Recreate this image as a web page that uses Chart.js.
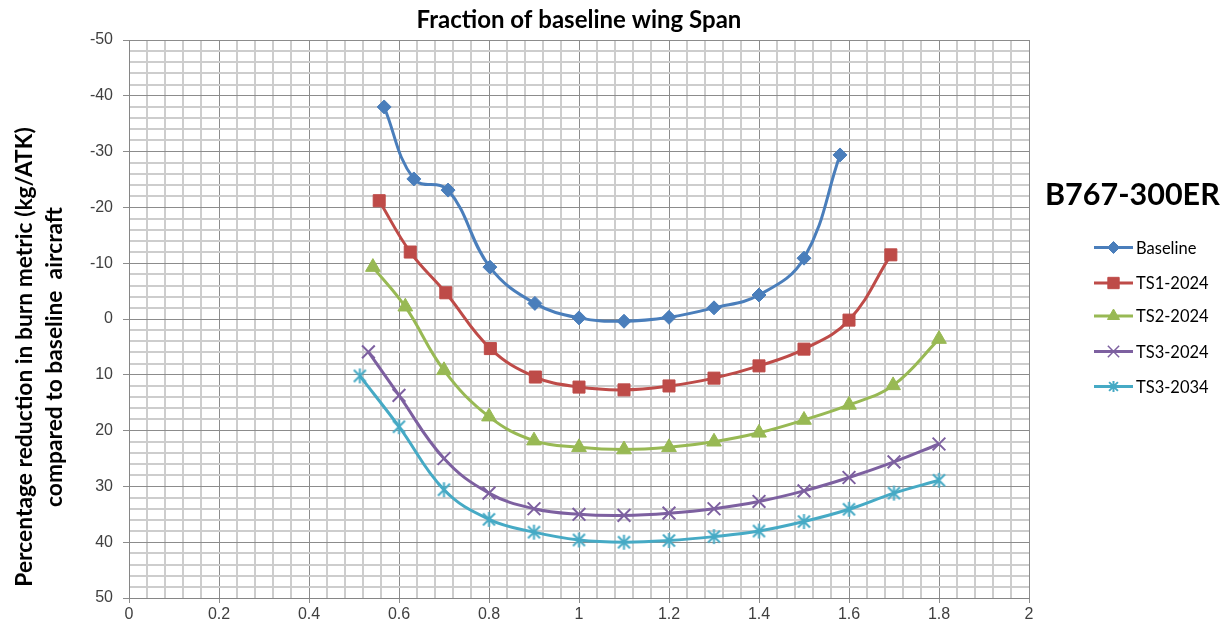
<!DOCTYPE html>
<html>
<head>
<meta charset="utf-8">
<script src="https://cdn.jsdelivr.net/npm/chart.js@4/dist/chart.umd.min.js"></script>
<style>
html,body{margin:0;padding:0;background:#fff;}
#wrap{width:1228px;height:632px;position:relative;}
</style>
</head>
<body>
<div id="wrap"><canvas id="c" width="1228" height="632"></canvas></div>
<script>
const chartTitle = "Fraction of baseline wing Span";
const yTitleLines = ["Percentage reduction in burn metric (kg/ATK)", "compared to baseline  aircraft"];
const legendTitle = "B767-300ER";
const seriesNames = ["Baseline", "TS1-2024", "TS2-2024", "TS3-2024", "TS3-2034"];

const xBaseline = [0.567, 0.633, 0.709, 0.802, 0.902, 1.0, 1.1, 1.2, 1.3, 1.4, 1.5, 1.58];
const yBaseline = [-38.0, -25.1, -23.1, -9.3, -2.8, -0.2, 0.4, -0.3, -2.0, -4.3, -10.9, -29.4];

const xTS1_2024 = [0.556, 0.625, 0.704, 0.803, 0.903, 1.0, 1.1, 1.2, 1.3, 1.4, 1.5, 1.6, 1.693];
const yTS1_2024 = [-21.2, -12.0, -4.7, 5.3, 10.4, 12.2, 12.7, 12.0, 10.6, 8.4, 5.4, 0.2, -11.5];

const xTS2_2024 = [0.542, 0.614, 0.70, 0.80, 0.90, 1.0, 1.1, 1.2, 1.3, 1.4, 1.5, 1.6, 1.698, 1.8];
const yTS2_2024 = [-9.3, -2.2, 9.2, 17.5, 21.8, 23.0, 23.4, 23.0, 22.0, 20.4, 18.1, 15.4, 11.9, 3.6];

const xTS3_2024 = [0.532, 0.60, 0.70, 0.80, 0.90, 1.0, 1.1, 1.2, 1.3, 1.4, 1.5, 1.6, 1.7, 1.8];
const yTS3_2024 = [5.9, 13.7, 25.0, 31.2, 34.0, 35.0, 35.2, 34.8, 34.0, 32.7, 30.8, 28.4, 25.6, 22.4];

const xTS3_2034 = [0.513, 0.60, 0.70, 0.80, 0.90, 1.0, 1.1, 1.2, 1.3, 1.4, 1.5, 1.6, 1.7, 1.8];
const yTS3_2034 = [10.2, 19.3, 30.6, 35.9, 38.2, 39.6, 40.0, 39.7, 39.0, 38.0, 36.3, 34.1, 31.2, 28.9];

const xMin = 0, xMax = 2, xMajor = 0.2, xMinor = 0.04;
const yMin = -50, yMax = 50, yMajor = 10, yMinor = 2;

const colors = ["#4A7EBB", "#BE4B48", "#98B954", "#7D60A0", "#46AAC5"];

function pts(xs, ys){ return xs.map((x,i)=>({x:x, y:ys[i]})); }

function asteriskImage(color, size){
  const c = document.createElement('canvas');
  c.width = size; c.height = size;
  const g = c.getContext('2d');
  g.strokeStyle = color; g.lineWidth = 2; g.lineCap = 'butt';
  const m = size/2, r = size/2 - 1;
  g.beginPath();
  g.moveTo(m, m - r); g.lineTo(m, m + r);
  const d = r*0.8;
  g.moveTo(m - d, m - d); g.lineTo(m + d, m + d);
  g.moveTo(m + d, m - d); g.lineTo(m - d, m + d);
  g.stroke();
  return c;
}
const starBig = asteriskImage(colors[4], 17);
const starSmall = asteriskImage(colors[4], 13);

const styles = [
  {pointStyle:'rectRot', radius:7, bw:1},
  {pointStyle:'rect', radius:8.5, bw:1},
  {pointStyle:'triangle', radius:8.5, bw:1},
  {pointStyle:'crossRot', radius:9, bw:2},
  {pointStyle:starBig, radius:8, bw:2}
];
const legendStyles = [
  {pointStyle:'rectRot', radius:6, bw:1},
  {pointStyle:'rect', radius:8, bw:1},
  {pointStyle:'triangle', radius:7, bw:1},
  {pointStyle:'crossRot', radius:8, bw:1.5},
  {pointStyle:starSmall, radius:6, bw:1.5}
];

const dataSets = [
  pts(xBaseline, yBaseline), pts(xTS1_2024, yTS1_2024), pts(xTS2_2024, yTS2_2024),
  pts(xTS3_2024, yTS3_2024), pts(xTS3_2034, yTS3_2034)
];

const datasets = dataSets.map((d,i)=>({
  label: seriesNames[i],
  data: d,
  showLine: true,
  borderColor: colors[i],
  backgroundColor: colors[i],
  borderWidth: 3,
  tension: 0.4,
  pointStyle: styles[i].pointStyle,
  pointRadius: styles[i].radius,
  pointHoverRadius: styles[i].radius,
  pointBorderWidth: styles[i].bw,
  pointBorderColor: colors[i],
  pointBackgroundColor: colors[i]
}));

const FONT = "'Liberation Sans Narrow', 'Liberation Sans', sans-serif";
const FONTB = "Lato, 'Open Sans', sans-serif";

function isMult(v, step){ const q = v/step; return Math.abs(q - Math.round(q)) < 1e-6; }

const overlay = {
  id: 'overlay',
  afterDraw(chart){
    const ctx = chart.ctx;
    ctx.save();
    // y-axis title (two lines, rotated)
    ctx.fillStyle = '#000';
    ctx.font = "bold 22.8px " + FONTB;
    ctx.textAlign = 'center';
    ctx.textBaseline = 'middle';
    const cy = 357;
    const xs = [25, 55];
    yTitleLines.forEach((t,i)=>{
      ctx.save();
      ctx.translate(xs[i], cy);
      ctx.rotate(-Math.PI/2);
      ctx.fillText(t, 0, 0);
      ctx.restore();
    });
    // legend title
    ctx.textAlign = 'left';
    ctx.font = "bold 30.5px " + FONTB;
    ctx.fillText(legendTitle, 1045, 195);
    // legend items
    const itemY = [247.5, 283, 316, 351.5, 386.5];
    ctx.font = "16.5px " + FONTB;
    chart.data.datasets.forEach((ds,i)=>{
      const y = itemY[i];
      ctx.strokeStyle = ds.borderColor;
      ctx.lineWidth = 3;
      ctx.beginPath(); ctx.moveTo(1094, y); ctx.lineTo(1133, y); ctx.stroke();
      ctx.fillStyle = ds.backgroundColor;
      ctx.strokeStyle = ds.borderColor;
      ctx.lineWidth = legendStyles[i].bw;
      Chart.helpers.drawPoint(ctx, {pointStyle: legendStyles[i].pointStyle, radius: legendStyles[i].radius, rotation: 0, borderWidth: legendStyles[i].bw}, 1113.5, y);
      ctx.fillStyle = '#000';
      ctx.fillText(ds.label, 1136, y + 1);
    });
    ctx.restore();
  }
};

const majorColor = '#8c8c8c', minorColor = '#cdcdcd';

new Chart(document.getElementById('c'), {
  type: 'scatter',
  data: { datasets },
  plugins: [overlay],
  options: {
    responsive: false,
    animation: false,
    layout: { padding: { left: 0, right: 199, top: 0, bottom: 0 } },
    plugins: {
      legend: { display: false },
      tooltip: { enabled: false },
      title: {
        display: true, text: chartTitle, fullSize: false,
        color: '#000',
        font: { family: FONTB, size: 24, weight: 'bold', lineHeight: 1.2 },
        padding: { top: 6, bottom: 5.2 }
      }
    },
    scales: {
      x: {
        type: 'linear', min: xMin, max: xMax,
        afterFit(s){ s.height = 34; },
        ticks: {
          stepSize: xMinor, maxTicksLimit: 200, autoSkip: false, maxRotation: 0,
          color: '#404040', font: { family: FONT, size: 16 }, padding: 2,
          callback: v => isMult(v, xMajor) ? String(Number(v.toFixed(1))) : ''
        },
        grid: {
          color: c => isMult(c.tick.value, xMajor) ? majorColor : minorColor,
          lineWidth: c => isMult(c.tick.value, xMajor) ? 1 : 2,
          tickColor: c => isMult(c.tick.value, xMajor) ? majorColor : 'rgba(0,0,0,0)',
          tickLength: 5
        },
        border: { color: '#868686', width: 1 }
      },
      y: {
        type: 'linear', min: yMin, max: yMax, reverse: true,
        afterFit(s){ s.width = 129; },
        ticks: {
          stepSize: yMinor, maxTicksLimit: 200, autoSkip: false,
          color: '#404040', font: { family: FONT, size: 16 }, padding: 10,
          callback: v => isMult(v, yMajor) ? String(v) : ''
        },
        grid: {
          color: c => isMult(c.tick.value, yMajor) ? majorColor : minorColor,
          lineWidth: c => isMult(c.tick.value, yMajor) ? 1 : 2,
          tickColor: c => isMult(c.tick.value, yMajor) ? majorColor : 'rgba(0,0,0,0)',
          tickLength: 6
        },
        border: { color: '#868686', width: 1 }
      }
    }
  }
});
</script>
</body>
</html>
